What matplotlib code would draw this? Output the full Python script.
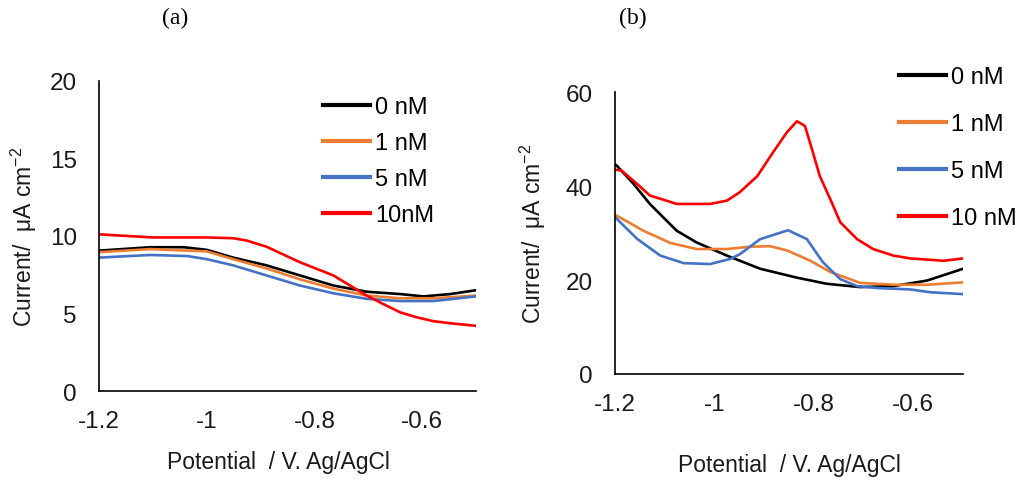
import numpy as np
import matplotlib.pyplot as plt

plt.rcParams['font.family'] = ['Liberation Sans', 'DejaVu Sans']
plt.rcParams['mathtext.fontset'] = 'custom'
plt.rcParams['mathtext.rm'] = 'Liberation Sans'
plt.rcParams['mathtext.it'] = 'Liberation Sans'

# (a) valores
xa_0 = [-1.2, -1.105, -1.043, -1.0, -0.951, -0.889, -0.827, -0.765, -0.703, -0.641, -0.598, -0.548, -0.5]
ya_0 = [9.05, 9.27, 9.27, 9.1, 8.6, 8.1, 7.45, 6.8, 6.4, 6.25, 6.1, 6.25, 6.5]
xa_1 = [-1.2, -1.105, -1.0, -0.951, -0.889, -0.827, -0.765, -0.703, -0.641, -0.579, -0.5]
ya_1 = [8.95, 9.15, 9.0, 8.5, 7.9, 7.2, 6.6, 6.15, 5.98, 5.98, 6.15]
xa_5 = [-1.2, -1.105, -1.036, -1.0, -0.951, -0.889, -0.827, -0.765, -0.703, -0.641, -0.579, -0.5]
ya_5 = [8.6, 8.77, 8.7, 8.5, 8.1, 7.45, 6.8, 6.3, 5.94, 5.8, 5.8, 6.1]
xa_10 = [-1.2, -1.1, -1.0, -0.951, -0.926, -0.889, -0.827, -0.765, -0.734, -0.703, -0.672, -0.641, -0.610, -0.579, -0.548, -0.5]
ya_10 = [10.1, 9.9, 9.9, 9.85, 9.7, 9.3, 8.3, 7.45, 6.8, 6.15, 5.6, 5.07, 4.75, 4.5, 4.37, 4.2]

# (b)
xb_0 = [-1.2, -1.197, -1.163, -1.13, -1.076, -1.036, -0.975, -0.908, -0.834, -0.774, -0.707, -0.640, -0.572, -0.5]
yb_0 = [44.6, 44.4, 40.5, 36.2, 30.5, 28.0, 25.2, 22.4, 20.5, 19.2, 18.5, 18.7, 19.9, 22.4]
xb_1 = [-1.2, -1.143, -1.089, -1.036, -0.975, -0.928, -0.888, -0.854, -0.807, -0.767, -0.707, -0.640, -0.572, -0.5]
yb_1 = [33.9, 30.5, 27.9, 26.6, 26.6, 27.1, 27.2, 26.3, 24.1, 21.7, 19.4, 19.0, 19.0, 19.5]
xb_5 = [-1.2, -1.156, -1.109, -1.062, -1.009, -0.968, -0.949, -0.908, -0.852, -0.814, -0.782, -0.747, -0.713, -0.673, -0.606, -0.566, -0.5]
yb_5 = [33.4, 28.8, 25.2, 23.6, 23.4, 24.5, 25.5, 28.7, 30.6, 28.7, 23.8, 20.2, 18.7, 18.3, 18.0, 17.4, 17.0]
xb_10 = [-1.2, -1.187, -1.156, -1.13, -1.076, -1.009, -0.975, -0.949, -0.914, -0.882, -0.854, -0.834,
         -0.818, -0.804, -0.788, -0.767, -0.747, -0.713, -0.681, -0.640, -0.606, -0.539, -0.5]
yb_10 = [43.5, 43.3, 40.5, 38.0, 36.2, 36.2, 36.9, 38.7, 42.1, 47.2, 51.5, 53.8,
         52.8, 47.9, 42.1, 37.2, 32.3, 28.7, 26.6, 25.2, 24.6, 24.1, 24.6]

etiquetas_a = ['0 nM', '1 nM', '5 nM', '10nM']
etiquetas_b = ['0 nM', '1 nM', '5 nM', '10 nM']
colores = ['#000000', '#ED7D31', '#4472C4', '#FF0000']
xticks = [-1.2, -1.0, -0.8, -0.6]
xtick_labels = ['-1.2', '-1', '-0.8', '-0.6']

fig = plt.figure(figsize=(10.22, 4.81), dpi=100)
ax1 = fig.add_axes([0.0969, 0.185, 0.369, 0.645])
ax2 = fig.add_axes([0.6018, 0.2204, 0.3405, 0.586])

datos_a = [(xa_0, ya_0), (xa_1, ya_1), (xa_5, ya_5), (xa_10, ya_10)]
datos_b = [(xb_0, yb_0), (xb_1, yb_1), (xb_5, yb_5), (xb_10, yb_10)]

for ax, datos, etiquetas, ymax, yticks in [(ax1, datos_a, etiquetas_a, 20, [0, 5, 10, 15, 20]),
                                          (ax2, datos_b, etiquetas_b, 60, [0, 20, 40, 60])]:
    for (x, y), lab, c in zip(datos, etiquetas, colores):
        ax.plot(x, y, color=c, lw=1.9, label=lab)
    ax.set_xlim(-1.2, -0.5)
    ax.set_ylim(0, ymax)
    ax.set_xticks(xticks)
    ax.set_xticklabels(xtick_labels)
    ax.set_yticks(yticks)
    ax.spines['top'].set_visible(False)
    ax.spines['right'].set_visible(False)
    ax.spines['left'].set_linewidth(1.2)
    ax.spines['bottom'].set_linewidth(1.2)
    ax.tick_params(length=0, labelsize=17.5, colors='#1a1a1a')
    ax.tick_params(axis='x', pad=14)
    ax.tick_params(axis='y', pad=16)
    ax.set_xlabel('Potential  / V. Ag/AgCl', fontsize=16.5, color='#1a1a1a')
    ax.set_ylabel(r'Current/  μA cm$^{-2}$', fontsize=16.5, color='#1a1a1a')

ax1.xaxis.set_label_coords(0.476, -0.19)
ax1.yaxis.set_label_coords(-0.16, 0.5)
ax2.xaxis.set_label_coords(0.5, -0.279)
ax2.yaxis.set_label_coords(-0.193, 0.5)

ax1.legend(frameon=False, loc='upper left', bbox_to_anchor=(311/1022, 1 - 85/481),
           bbox_transform=fig.transFigure, borderpad=0, handlelength=2.0,
           handletextpad=0.2, labelspacing=0.6, fontsize=17)
leg2 = ax2.legend(frameon=False, loc='upper left', bbox_to_anchor=(887/1022, 1 - 55/481),
                  bbox_transform=fig.transFigure, borderpad=0, handlelength=2.0,
                  handletextpad=0.2, labelspacing=1.06, fontsize=17)
for leg in [ax1.get_legend(), leg2]:
    for h in leg.get_lines():
        h.set_linewidth(3)

fig.text(175/1022, 1 - 18/481, '(a)', fontsize=17, family='Liberation Serif', ha='center', va='center')
fig.text(633/1022, 1 - 18/481, '(b)', fontsize=17, family='Liberation Serif', ha='center', va='center')

plt.savefig('out.png', dpi=100)
